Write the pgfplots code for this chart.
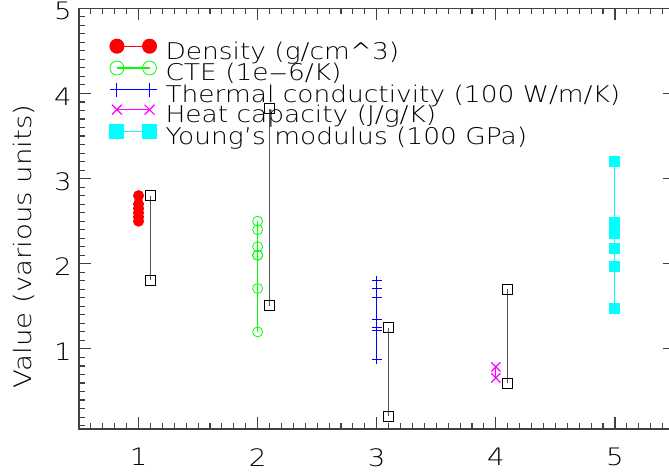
\documentclass[border=0pt]{standalone}
\usepackage{fontspec}
\setmainfont{DejaVu Sans ExtraLight}[FakeStretch=1.15]
\usepackage{pgfplots}
\pgfplotsset{compat=1.18}

\definecolor{rangegray}{RGB}{80,80,80}
\definecolor{idlred}{RGB}{255,0,0}
\definecolor{idlgreen}{RGB}{0,255,0}
\definecolor{idlblue}{RGB}{0,0,255}
\definecolor{idlmagenta}{RGB}{255,0,255}
\definecolor{idlcyan}{RGB}{0,255,255}

\begin{document}
\begin{tikzpicture}
\begin{axis}[
  at={(0pt,0pt)}, anchor=south west,
  scale only axis, width=595.5pt, height=420.7pt,
  xmin=0.5, xmax=5.5, ymin=0.06, ymax=5,
  xtick={1,2,3,4,5}, ytick={1,2,3,4,5},
  minor xtick={0.6,0.7,...,5.45},
  minor ytick={0.1,0.2,...,4.95},
  tick align=inside,
  major tick length=11.7pt, minor tick length=6pt,
  every tick/.style={black!75, line width=1.1pt},
  axis line style={black!75, line width=1.5pt},
  /pgf/number format/assume math mode=true,
  ticklabel style={font=\fontsize{24}{24}\selectfont, inner sep=0pt},
  xticklabel style={yshift=-19pt},
  yticklabel style={xshift=-7pt, yshift=-3pt},
  ylabel={Value (various units)},
  every axis y label/.style={at={(axis description cs:-0.0924,0.434)}, anchor=center, rotate=90, font=\fontsize{24}{24}\selectfont},
  legend cell align=left,
  legend image code/.code={\draw[#1, mark size=7pt] plot coordinates {(0pt,7pt) (32.6pt,7pt)};},
  legend style={at={(axis description cs:0.0516,0.927)}, anchor=north west, draw=none, fill=none, inner sep=0pt,
    font=\fontsize{23}{23}\selectfont, column sep=9pt, row sep=-3.3pt,
    nodes={inner sep=0pt, text height=17pt, text depth=5.25pt}},
]
\addplot[idlred, line width=1pt, mark=*, mark size=5pt] coordinates {
  (1,2.80) (1,2.70) (1,2.65) (1,2.60) (1,2.55) (1,2.50)
};
\addlegendentry{Density (g/cm\textasciicircum 3)}
\addplot[idlgreen, line width=1.3pt, mark=o, mark size=5pt, mark options={line width=0.8pt}] coordinates {
  (2,2.50) (2,2.40) (2,2.20) (2,2.10) (2,2.10) (2,1.71) (2,1.20)
};
\addlegendentry{CTE (1e$-$6/K)}
\addplot[idlblue, line width=1pt, mark=+, mark size=5pt] coordinates {
  (3,1.80) (3,1.71) (3,1.60) (3,1.35) (3,1.25) (3,1.22) (3,0.88)
};
\addlegendentry{Thermal conductivity (100 W/m/K)}
\addplot[idlmagenta, line width=1pt, mark=x, mark size=6.5pt, mark options={line width=1.2pt}] coordinates {
  (4,0.79) (4,0.66)
};
\addlegendentry{Heat capacity (J/g/K)}
\addplot[idlcyan, line width=1pt, mark=square*, mark size=5pt] coordinates {
  (5,3.20) (5,2.49) (5,2.35) (5,2.18) (5,1.97) (5,1.47)
};
\addlegendentry{Young's modulus (100 GPa)}

\addplot[forget plot, rangegray, line width=1pt, mark=square, mark size=5pt, mark options={black, line width=0.9pt}] coordinates {(1.1,1.81) (1.1,2.80)};
\addplot[forget plot, rangegray, line width=1pt, mark=square, mark size=5pt, mark options={black, line width=0.9pt}] coordinates {(2.1,1.51) (2.1,3.82)};
\addplot[forget plot, rangegray, line width=1pt, mark=square, mark size=5pt, mark options={black, line width=0.9pt}] coordinates {(3.1,0.21) (3.1,1.25)};
\addplot[forget plot, rangegray, line width=1pt, mark=square, mark size=5pt, mark options={black, line width=0.9pt}] coordinates {(4.1,0.60) (4.1,1.70)};
\end{axis}
\pgfresetboundingbox
\path[use as bounding box] (-79pt,-45pt) rectangle (590pt,429pt);
\end{tikzpicture}
\end{document}
